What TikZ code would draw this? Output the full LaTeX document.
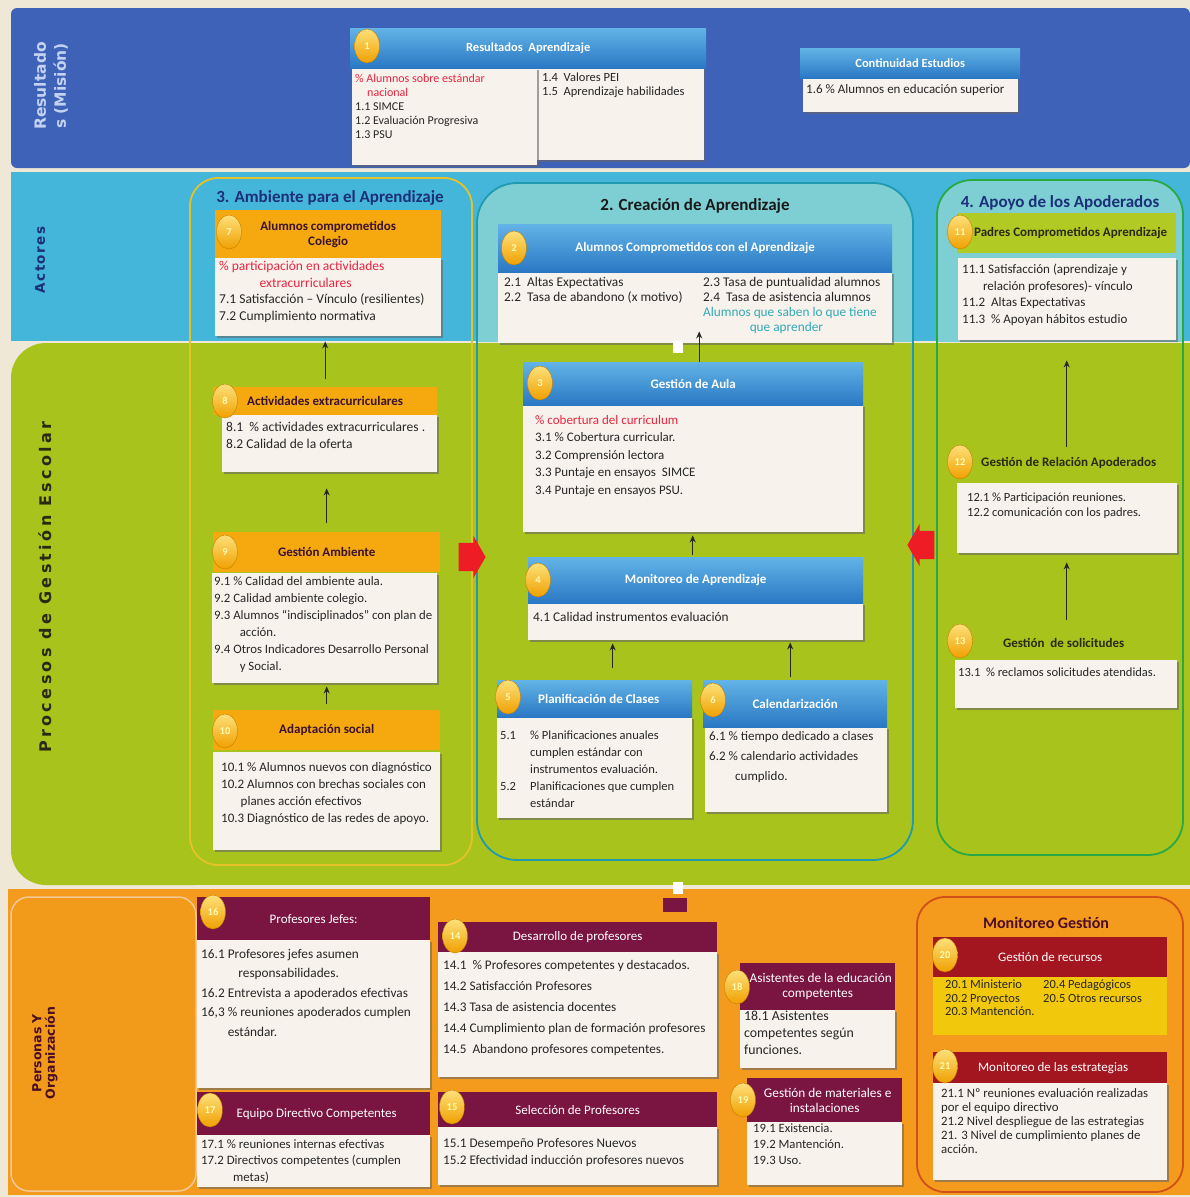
\documentclass[tikz,border=0pt]{standalone}
\usepackage{fontspec}
\setmainfont{Carlito}
\newfontfamily\lblfont{DejaVu Sans}
\usetikzlibrary{shadows,shapes.geometric,shapes.arrows,arrows.meta}
\definecolor{cream}{HTML}{EFE8D6}
\definecolor{bandblue}{HTML}{3D62B8}
\definecolor{bandcyan}{HTML}{44B6D9}
\definecolor{bandgreen}{HTML}{A8C31C}
\definecolor{bandorange}{HTML}{F49B1D}
\definecolor{orangeL}{HTML}{F29A1A}
\definecolor{colfill}{HTML}{7DCFD3}
\definecolor{colthree}{HTML}{E6C229}
\definecolor{coltwo}{HTML}{1F9AB0}
\definecolor{colfour}{HTML}{2AA843}
\definecolor{monline}{HTML}{D0501A}
\definecolor{hblueT}{HTML}{62B3E6}
\definecolor{hblueB}{HTML}{2A78C4}
\definecolor{horange}{HTML}{F6A90F}
\definecolor{hmaroon}{HTML}{7A1440}
\definecolor{hred}{HTML}{A3151F}
\definecolor{hgreen}{HTML}{B2CA24}
\definecolor{bodyw}{HTML}{F7F2EC}
\definecolor{yellowb}{HTML}{F2C80C}
\definecolor{redtxt}{HTML}{E8253F}
\definecolor{tealtxt}{HTML}{33A9B5}
\definecolor{navy}{HTML}{1C2F78}
\definecolor{maroondark}{HTML}{4A0D24}
\definecolor{reslbl}{HTML}{C4D2F2}
\definecolor{darktxt}{HTML}{2A2A12}
\definecolor{orangetxt}{HTML}{3A1230}
\definecolor{circT}{HTML}{FDE07A}
\definecolor{circB}{HTML}{F0A000}
\definecolor{redarr}{HTML}{EE1C25}
\newcommand{\mkbox}[7]{\node[#2, anchor=north west, minimum width=#5pt-#3pt, minimum height=#6pt-#4pt] (#1) at (#3,#4) {#7};}
\newcommand{\fs}[2]{\fontsize{#1}{#2}\selectfont}
\begin{document}
\begin{tikzpicture}[x=1pt,y=-1pt,
  bodybox/.style={fill=bodyw, inner sep=0, drop shadow={shadow xshift=1.5pt, shadow yshift=-2pt, fill=black!60, opacity=0.6}},
  yellowbox/.style={fill=yellowb, inner sep=0},
  hdblue/.style={top color=hblueT, bottom color=hblueB, text=white, align=center, inner sep=1pt, font=\bfseries\fs{13}{14.5}},
  hdorange/.style={fill=horange, text=orangetxt, align=center, inner sep=1pt, font=\bfseries\fs{13}{15}},
  hdmaroon/.style={fill=hmaroon, text=white, align=center, inner sep=1pt, font=\fs{13}{15}},
  hdred/.style={fill=hred, text=white, align=center, inner sep=1pt, font=\fs{13}{15}},
  hdgreen/.style={fill=hgreen, text=darktxt, align=center, inner sep=1pt, font=\bfseries\fs{13}{15}},
  hdplain/.style={text=darktxt, align=center, inner sep=1pt, font=\bfseries\fs{13}{15}},
  btxt/.style={anchor=north west, align=left, inner sep=0, text=black!85, font=\fs{13}{15}},
  ttl/.style={inner sep=0, font=\bfseries\fs{17}{19}},
  numc/.style={ellipse, minimum width=25pt, minimum height=34pt, inner sep=0, top color=circT, bottom color=circB, draw=circB!80!black, line width=0.4pt, text=yellow!30, font=\bfseries\fs{10.5}{10.5}},
  arr/.style={-{Stealth[length=7pt,width=6pt]}, line width=1.1pt, black!85},
  redarrow/.style={single arrow, fill=redarr, inner xsep=0pt, inner ysep=14pt, minimum height=27pt, single arrow head extend=7pt, single arrow tip angle=120},
  wsq/.style={fill=white, minimum width=10pt, minimum height=12pt, inner sep=0}
]
\useasboundingbox (0,0) rectangle (1190,1197);
\fill[cream] (0,0) rectangle (1190,1197);
% bands
\fill[bandblue, rounded corners=6] (11,8) rectangle (1190,168);
\fill[bandcyan] (11,172) rectangle (1190,341);
\fill[bandgreen, rounded corners=35] (11,343) rectangle (230,885);
\fill[bandgreen] (120,343) rectangle (1190,885);
\fill[bandorange] (8,889) rectangle (1190,1195);
\filldraw[fill=orangeL, draw=cream!70!orange, line width=1.5, rounded corners=18] (11,897) rectangle (196,1191);
% light fill of columns 2 and 4 in the Actores band
\begin{scope}
\clip (11,172) rectangle (1190,341);
\fill[colfill, rounded corners=40] (477,183) rectangle (913,860);
\fill[colfill, rounded corners=35] (937,180) rectangle (1183,855);
\end{scope}
% column outlines
\draw[colthree, line width=1.8, rounded corners=28] (190,178) rectangle (472,865);
\draw[coltwo, line width=1.8, rounded corners=40] (477,183) rectangle (913,860);
\draw[colfour, line width=1.8, rounded corners=35] (937,180) rectangle (1183,855);
\draw[monline, line width=1.8, rounded corners=28] (917,897) rectangle (1183,1192);
% band labels
\node[rotate=90, align=center, text=reslbl, font=\lblfont\bfseries\fs{15.5}{20}] (lres) at (51,86) {Resultado\\s (Misión)};
\node[rotate=90, text=navy, font=\lblfont\bfseries\fs{13.5}{15}\addfontfeature{LetterSpace=10}] (lact) at (40,260) {Actores};
\node[rotate=90, text=darktxt, font=\lblfont\bfseries\fs{16}{18}\addfontfeature{LetterSpace=21}] (lproc) at (45,587) {Procesos de Gestión Escolar};
\node[rotate=90, align=center, text=maroondark, font=\lblfont\bfseries\fs{12.5}{13.5}] (lper) at (45,1053) {Personas Y\\Organización};
% titles
\node[ttl, text=navy] (ti3) at (330,198) {3. Ambiente para el Aprendizaje};
\node[ttl, text=black!90] (ti2) at (695,206) {2. Creación de Aprendizaje};
\node[ttl, text=navy] (ti4) at (1060,203) {4. Apoyo de los Apoderados};
\node[ttl, text=maroondark, font=\bfseries\fs{16}{18}] (tim) at (1046,923) {Monitoreo Gestión};

% ===== Box 1
\mkbox{b1b}{bodybox}{537}{66}{704}{160}{}
\mkbox{b1a}{bodybox}{352}{68}{537}{165}{}
\mkbox{h1}{hdblue, font=\bfseries\fs{12.5}{14}}{350}{28}{706}{68}{Resultados\ \ Aprendizaje}
\node[numc] (c1) at (367,46) {1};
\node[btxt, font=\fs{12}{14}] (t1a) at ([xshift=3pt,yshift=-6pt]b1a.north west) {\textcolor{redtxt}{\% Alumnos sobre estándar}\\\hspace*{1em}\textcolor{redtxt}{nacional}\\1.1 SIMCE\\1.2 Evaluación Progresiva\\1.3 PSU};
\node[btxt, font=\fs{12.5}{14}] (t1b) at ([xshift=5pt,yshift=-7pt]b1b.north west) {1.4\ \ Valores PEI\\1.5\ \ Aprendizaje habilidades};
% ===== Continuidad
\mkbox{bc}{bodybox}{803}{78}{1018}{112}{}
\mkbox{hc}{hdblue, font=\bfseries\fs{12.5}{14}}{800}{48}{1020}{78}{Continuidad Estudios}
\node[btxt, font=\fs{13}{14}] (tc) at ([xshift=3pt,yshift=-6pt]bc.north west) {1.6 \% Alumnos en educación superior};

% ===== Box 7
\mkbox{b7}{bodybox}{215}{258}{441}{336}{}
\mkbox{h7}{hdorange}{215}{210}{441}{258}{Alumnos comprometidos\\Colegio}
\node[numc] (c7) at (229,232) {7};
\node[btxt, font=\fs{13.5}{16.5}] (t7) at ([xshift=4pt,yshift=-3pt]b7.north west) {\textcolor{redtxt}{\% participación en actividades}\\\hspace*{3em}\textcolor{redtxt}{extracurriculares}\\7.1 Satisfacción – Vínculo (resilientes)\\7.2 Cumplimiento normativa};

% ===== Box 2
\mkbox{b2}{bodybox}{498}{272}{892}{343}{}
\mkbox{h2}{hdblue}{498}{224}{892}{272}{Alumnos Comprometidos con el Aprendizaje}
\node[numc] (c2) at (514,248) {2};
\node[btxt, font=\fs{13.3}{15}] (t2a) at ([xshift=6pt,yshift=-5pt]b2.north west) {2.1\ \ Altas Expectativas\\2.2\ \ Tasa de abandono (x motivo)};
\node[btxt, font=\fs{13.3}{15}] (t2b) at ([xshift=205pt,yshift=-5pt]b2.north west) {2.3 Tasa de puntualidad alumnos\\2.4\ \ Tasa de asistencia alumnos\\\textcolor{tealtxt}{Alumnos que saben lo que tiene}\\\hspace*{3.5em}\textcolor{tealtxt}{que aprender}};

% ===== Box 11
\mkbox{b11}{bodybox}{958}{258}{1176}{340}{}
\mkbox{h11}{hdgreen}{957}{213}{1176}{253}{\hspace*{8pt}Padres Comprometidos Aprendizaje}
\node[numc] (c11) at (960,232) {11};
\node[btxt, font=\fs{13}{16.5}] (t11) at ([xshift=4pt,yshift=-6pt]b11.north west) {11.1 Satisfacción (aprendizaje y\\\hspace*{1.6em}relación profesores)- vínculo\\11.2\ \ Altas Expectativas\\11.3\ \ \% Apoyan hábitos estudio};

% ===== Box 8
\mkbox{b8}{bodybox}{222}{415}{437}{472}{}
\mkbox{h8}{hdorange}{213}{387}{437}{415}{Actividades extracurriculares}
\node[numc] (c8) at (225,401) {8};
\node[btxt, font=\fs{13.5}{16.5}] (t8) at ([xshift=4pt,yshift=-7pt]b8.north west) {8.1\ \ \% actividades extracurriculares .\\8.2 Calidad de la oferta};

% ===== Box 9
\mkbox{b9}{bodybox}{212}{573}{437}{683}{}
\mkbox{h9}{hdorange}{213}{532}{440}{572}{Gestión Ambiente}
\node[numc] (c9) at (225,552) {9};
\node[btxt, font=\fs{12.8}{17}] (t9) at ([xshift=2pt,yshift=-3pt]b9.north west) {9.1 \% Calidad del ambiente aula.\\9.2 Calidad ambiente colegio.\\9.3 Alumnos “indisciplinados” con plan de\\\hspace*{2em}acción.\\9.4 Otros Indicadores Desarrollo Personal\\\hspace*{2em}y Social.};

% ===== Box 10
\mkbox{b10}{bodybox}{213}{752}{440}{850}{}
\mkbox{h10}{hdorange}{213}{710}{440}{750}{Adaptación social}
\node[numc] (c10) at (225,731) {10};
\node[btxt, font=\fs{13}{17}] (t10) at ([xshift=8pt,yshift=-10pt]b10.north west) {10.1 \% Alumnos nuevos con diagnóstico\\10.2 Alumnos con brechas sociales con\\\hspace*{1.5em}planes acción efectivos\\10.3 Diagnóstico de las redes de apoyo.};

% ===== Box 3
\mkbox{b3}{bodybox}{523}{405}{863}{532}{}
\mkbox{h3}{hdblue}{523}{362}{863}{405}{Gestión de Aula}
\node[numc] (c3) at (540,383) {3};
\node[btxt, font=\fs{13}{17.5}] (t3) at ([xshift=12pt,yshift=-10pt]b3.north west) {\textcolor{redtxt}{\% cobertura del curriculum}\\3.1 \% Cobertura curricular.\\3.2 Comprensión lectora\\3.3 Puntaje en ensayos\ \ SIMCE\\3.4 Puntaje en ensayos PSU.};

% ===== Box 4
\mkbox{b4}{bodybox}{528}{603}{863}{640}{}
\mkbox{h4}{hdblue}{528}{557}{863}{603}{Monitoreo de Aprendizaje}
\node[numc] (c4) at (538,580) {4};
\node[btxt, font=\fs{13.3}{15}] (t4) at ([xshift=5pt,yshift=-9pt]b4.north west) {4.1 Calidad instrumentos evaluación};

% ===== Box 5
\mkbox{b5}{bodybox}{497}{717}{692}{818}{}
\mkbox{h5}{hdblue}{497}{680}{692}{717}{\hspace*{8pt}Planificación de Clases}
\node[numc] (c5) at (508,697) {5};
\node[btxt, font=\fs{12.5}{17}] (t5) at ([xshift=3pt,yshift=-14pt]b5.north west) {\makebox[2.4em][l]{5.1}\% Planificaciones anuales\\\hspace*{2.4em}cumplen estándar con\\\hspace*{2.4em}instrumentos evaluación.\\\makebox[2.4em][l]{5.2}Planificaciones que cumplen\\\hspace*{2.4em}estándar};

% ===== Box 6
\mkbox{b6}{bodybox}{705}{727}{887}{812}{}
\mkbox{h6}{hdblue}{703}{680}{887}{727}{Calendarización}
\node[numc] (c6) at (713,700) {6};
\node[btxt, font=\fs{13}{20}] (t6) at ([xshift=4pt,yshift=-4pt]b6.north west) {6.1 \% tiempo dedicado a clases\\6.2 \% calendario actividades\\\hspace*{2em}cumplido.};

% ===== Box 12
\mkbox{b12}{bodybox}{957}{483}{1177}{553}{}
\mkbox{h12}{hdplain}{952}{450}{1175}{476}{\hspace*{10pt}Gestión de Relación Apoderados}
\node[numc] (c12) at (960,462) {12};
\node[btxt, font=\fs{12.5}{15}] (t12) at ([xshift=10pt,yshift=-10pt]b12.north west) {12.1 \% Participación reuniones.\\12.2 comunicación con los padres.};

% ===== Box 13
\mkbox{b13}{bodybox}{955}{660}{1177}{708}{}
\mkbox{h13}{hdplain}{952}{630}{1175}{656}{Gestión\ \ de solicitudes}
\node[numc] (c13) at (960,641) {13};
\node[btxt, font=\fs{12.5}{15}] (t13) at ([xshift=3pt,yshift=-8pt]b13.north west) {13.1\ \ \% reclamos solicitudes atendidas.};

% ===== Box 16
\mkbox{b16}{bodybox}{197}{940}{430}{1088}{}
\mkbox{h16}{hdmaroon}{197}{897}{430}{940}{Profesores Jefes:}
\node[numc] (c16) at (213,912) {16};
\node[btxt, font=\fs{13.3}{19.5}] (t16) at ([xshift=4pt,yshift=-9pt]b16.north west) {16.1 Profesores jefes asumen\\\hspace*{2.8em}responsabilidades.\\16.2 Entrevista a apoderados efectivas\\16,3 \% reuniones apoderados cumplen\\\hspace*{2em}estándar.};

% ===== Box 17
\mkbox{b17}{bodybox}{197}{1135}{430}{1187}{}
\mkbox{h17}{hdmaroon}{197}{1092}{430}{1135}{\hspace*{6pt}Equipo Directivo Competentes}
\node[numc] (c17) at (210,1110) {17};
\node[btxt, font=\fs{12.8}{16.5}] (t17) at ([xshift=4pt,yshift=-4pt]b17.north west) {17.1 \% reuniones internas efectivas\\17.2 Directivos competentes (cumplen\\\hspace*{2.5em}metas)};

% ===== Box 14
\mkbox{b14}{bodybox}{438}{952}{717}{1077}{}
\mkbox{h14}{hdmaroon}{438}{922}{717}{952}{Desarrollo de profesores}
\node[numc] (c14) at (455,936) {14};
\node[btxt, font=\fs{13.2}{21}] (t14) at ([xshift=5pt,yshift=-8pt]b14.north west) {14.1\ \ \% Profesores competentes y destacados.\\14.2 Satisfacción Profesores\\14.3 Tasa de asistencia docentes\\14.4 Cumplimiento plan de formación profesores\\14.5\ \ Abandono profesores competentes.};

% ===== Box 15
\mkbox{b15}{bodybox}{438}{1127}{717}{1185}{}
\mkbox{h15}{hdmaroon}{438}{1092}{717}{1127}{Selección de Profesores}
\node[numc] (c15) at (452,1107) {15};
\node[btxt, font=\fs{13.2}{17}] (t15) at ([xshift=5pt,yshift=-11pt]b15.north west) {15.1 Desempeño Profesores Nuevos\\15.2 Efectividad inducción profesores nuevos};

% ===== Box 18
\mkbox{b18}{bodybox}{740}{1010}{895}{1068}{}
\mkbox{h18}{hdmaroon, font=\fs{13.3}{15}}{740}{963}{895}{1010}{\hspace*{6pt}Asistentes de la educación\\competentes}
\node[numc] (c18) at (737,987) {18};
\node[btxt, font=\fs{13.8}{17}] (t18) at ([xshift=4pt,yshift=-1pt]b18.north west) {18.1 Asistentes\\competentes según\\funciones.};

% ===== Box 19
\mkbox{b19}{bodybox}{747}{1122}{902}{1185}{}
\mkbox{h19}{hdmaroon, font=\fs{13.3}{15}}{747}{1078}{902}{1122}{\hspace*{6pt}Gestión de materiales e\\instalaciones}
\node[numc] (c19) at (743,1100) {19};
\node[btxt, font=\fs{12.7}{16}] (t19) at ([xshift=6pt,yshift=-2pt]b19.north west) {19.1 Existencia.\\19.2 Mantención.\\19.3 Uso.};

% ===== Box 20
\mkbox{b20}{yellowbox}{933}{977}{1167}{1035}{}
\mkbox{h20}{hdred}{933}{937}{1167}{977}{Gestión de recursos}
\node[numc] (c20) at (945,955) {20};
\node[btxt, font=\fs{12.5}{13.5}] (t20a) at ([xshift=12pt,yshift=-3pt]b20.north west) {20.1 Ministerio\\20.2 Proyectos\\20.3 Mantención.};
\node[btxt, font=\fs{12.5}{13.5}] (t20b) at ([xshift=110pt,yshift=-3pt]b20.north west) {20.4 Pedagógicos\\20.5 Otros recursos};

% ===== Box 21
\mkbox{b21}{bodybox}{933}{1083}{1167}{1180}{}
\mkbox{h21}{hdred}{933}{1052}{1167}{1083}{\hspace*{6pt}Monitoreo de las estrategias}
\node[numc] (c21) at (945,1066) {21};
\node[btxt, font=\fs{12.8}{14}] (t21) at ([xshift=8pt,yshift=-5pt]b21.north west) {21.1 Nº reuniones evaluación realizadas\\por el equipo directivo\\21.2 Nivel despliegue de las estrategias\\21. 3 Nivel de cumplimiento planes de\\acción.};

% ===== red block arrows
\node[redarrow] (ra1) at (468,557) {};
\node[redarrow, shape border rotate=180] (ra2) at (925,545) {};

% ===== small markers
\node[wsq] (sq1) at (678,347) {};
\node[fill=hmaroon, minimum width=24pt, minimum height=14pt, inner sep=0] (mb) at (675,905) {};
\node[wsq] (sq2) at (678,888) {};

% ===== connectors
\draw[arr, shorten <=8pt, shorten >=5pt] (h8.north) -- (h8.north |- b7.south);
\draw[arr, shorten <=9pt, shorten >=16pt] (h9.north) -- (h9.north |- b8.south);
\draw[arr, shorten <=6pt, shorten >=3pt] (h10.north) -- (h10.north |- b9.south);
\draw[arr, shorten >=-12pt] ([xshift=6pt]h3.north) -- ([xshift=6pt]h3.north |- b2.south);
\draw[arr, shorten <=2pt, shorten >=3pt] ([xshift=-3pt]h4.north) -- ([xshift=-3pt]h4.north |- b3.south);
\draw[arr, shorten <=12pt, shorten >=3pt] ([xshift=18pt]h5.north) -- ([xshift=18pt]h5.north |- b4.south);
\draw[arr, shorten <=3pt, shorten >=2pt] ([xshift=-5pt]h6.north) -- ([xshift=-5pt]h6.north |- b4.south);
\draw[arr, shorten <=3pt, shorten >=20pt] ([xshift=3pt]h12.north) -- ([xshift=3pt]h12.north |- b11.south);
\draw[arr, shorten <=10pt, shorten >=9pt] ([xshift=3pt]h13.north) -- ([xshift=3pt]h13.north |- b12.south);
\end{tikzpicture}
\end{document}
